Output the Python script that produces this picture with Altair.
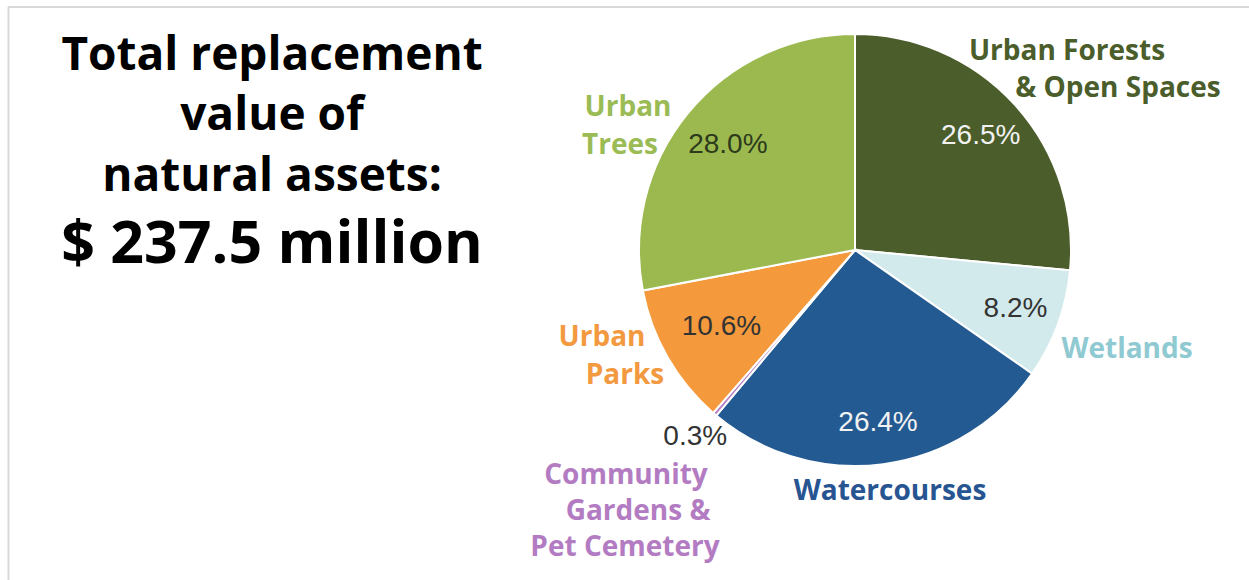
import altair as alt
import pandas as pd

# ---- data ----
categories = ["Urban Forests & Open Spaces", "Wetlands", "Watercourses",
              "Community Gardens & Pet Cemetery", "Urban Parks", "Urban Trees"]
shares = [26.5, 8.2, 26.4, 0.3, 10.6, 28.0]
pct_labels = ["26.5%", "8.2%", "26.4%", "0.3%", "10.6%", "28.0%"]

title_lines = ["Total replacement", "value of", "natural assets:", "$ 237.5 million"]

label_lines = [
    ("Urban Forests", "Urban Forests & Open Spaces"),
    ("& Open Spaces", "Urban Forests & Open Spaces"),
    ("Wetlands", "Wetlands"),
    ("Watercourses", "Watercourses"),
    ("Community", "Community Gardens & Pet Cemetery"),
    ("Gardens &", "Community Gardens & Pet Cemetery"),
    ("Pet Cemetery", "Community Gardens & Pet Cemetery"),
    ("Urban", "Urban Parks"),
    ("Parks", "Urban Parks"),
    ("Urban", "Urban Trees"),
    ("Trees", "Urban Trees"),
]

# ---- styles / layout ----
slice_colors = ["#4a5d2a", "#d3eaec", "#245a92", "#b57fc4", "#f4993c", "#9bb94e"]
label_colors = {"Urban Forests & Open Spaces": "#4a5d2a", "Wetlands": "#8fc9d1",
                "Watercourses": "#275592", "Community Gardens & Pet Cemetery": "#b37cc2",
                "Urban Parks": "#f3993f", "Urban Trees": "#9bbb55"}
pct_colors = ["#f2f2f2", "#333333", "#f2f2f2", "#333333", "#333333", "#2d3a1c"]
pct_radius = [170, 171, 175, 246, 154, 165]
label_xy = [(1067, 52), (1118, 89), (1127, 350), (890, 492), (626, 476), (638, 512),
            (625, 548), (602, 338), (625, 376), (628, 108), (620, 146)]
title_y = [56, 116, 177, 245]
title_size = [46, 46, 46, 59]
CX, CY, R = 855, 250, 216

W, H = 1249, 580

pie_df = pd.DataFrame({"category": categories, "share": shares, "order": list(range(6)),
                       "pct": pct_labels, "pcol": pct_colors, "prad": pct_radius})

theta_scale = alt.Scale(domain=[0, 100])

pie = alt.Chart(pie_df).mark_arc(outerRadius=R, stroke="white", strokeWidth=2).encode(
    theta=alt.Theta("share:Q", stack=True, scale=theta_scale),
    order=alt.Order("order:Q"),
    x=alt.value(CX), y=alt.value(CY),
    color=alt.Color("category:N", scale=alt.Scale(domain=categories, range=slice_colors), legend=None),
)

pct = alt.Chart(pie_df).transform_window(
    cum="sum(share)", sort=[alt.SortField("order", order="ascending")], frame=[None, 0]
).transform_calculate(
    mid="datum.cum - datum.share / 2"
).mark_text(font="Liberation Sans", fontSize=28, baseline="middle", align="center").encode(
    theta=alt.Theta("mid:Q", stack=None, scale=theta_scale),
    radius=alt.Radius("prad:Q", scale=None),
    x=alt.value(CX), y=alt.value(CY),
    text="pct:N",
    color=alt.Color("pcol:N", scale=None),
)

lab_df = pd.DataFrame({
    "text": [t for t, _ in label_lines],
    "col": [label_colors[c] for _, c in label_lines],
    "x": [p[0] for p in label_xy],
    "y": [p[1] for p in label_xy],
})
labels = alt.Chart(lab_df).mark_text(font="Open Sans", fontWeight="bold", fontSize=28,
                                      baseline="middle", align="center").encode(
    x=alt.X("x:Q", scale=None), y=alt.Y("y:Q", scale=None),
    text="text:N", color=alt.Color("col:N", scale=None),
)

title_df = pd.DataFrame({"text": title_lines, "y": title_y, "size": title_size})
titles = alt.Chart(title_df).mark_text(font="Open Sans", fontWeight="bold", color="#000000",
                                        baseline="middle", align="center").encode(
    x=alt.value(272), y=alt.Y("y:Q", scale=None),
    text="text:N", size=alt.Size("size:Q", scale=None),
)

border_top = alt.Chart(pd.DataFrame({"a": [0]})).mark_rule(color="#d9d9d9", strokeWidth=2).encode(
    x=alt.value(8), x2=alt.value(W), y=alt.value(7))
border_left = alt.Chart(pd.DataFrame({"a": [0]})).mark_rule(color="#d9d9d9", strokeWidth=2).encode(
    x=alt.value(8.5), y=alt.value(7), y2=alt.value(H))

chart = alt.layer(border_top, border_left, pie, pct, labels, titles).properties(
    width=W, height=H, autosize="none", padding=0, background="white"
).configure_view(stroke=None)

chart.save("out.html", embed_options={"renderer": "svg", "actions": False})
